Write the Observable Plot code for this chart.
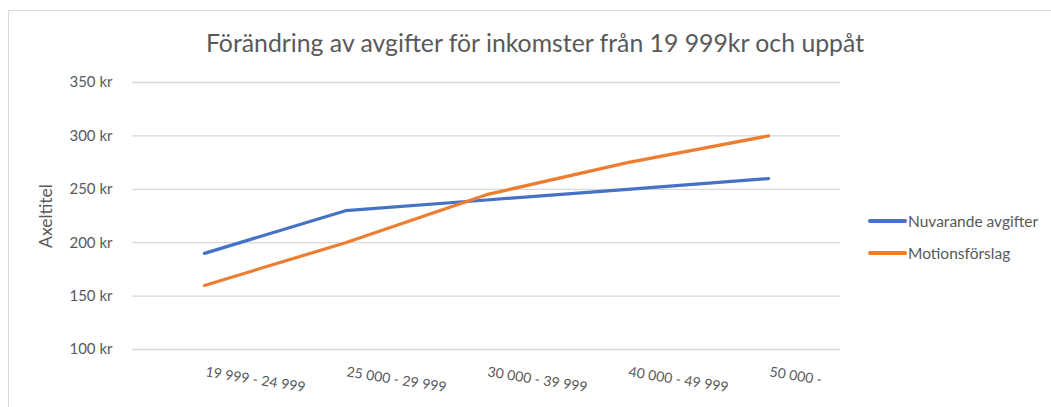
<!DOCTYPE html>
<html><head><meta charset="utf-8">
<script src="https://cdn.jsdelivr.net/npm/d3@7"></script>
<script src="https://cdn.jsdelivr.net/npm/@observablehq/plot@0.6"></script>
<style>
body{margin:0;background:#fff;font-family:Lato,"Open Sans",sans-serif;}
#wrap{position:relative;width:1051px;height:407px;overflow:hidden;}
#frame{position:absolute;left:8px;top:10px;width:1100px;height:500px;border:1px solid #d9d9d9;}
#title{position:absolute;left:0;width:1070px;top:28px;text-align:center;font-size:24.8px;color:#595959;}
#ylab{position:absolute;left:45px;top:216px;transform:translate(-50%,-50%) rotate(-90deg);font-size:17.5px;color:#595959;white-space:nowrap;}
.leg{position:absolute;left:868px;font-size:15.5px;color:#595959;display:flex;align-items:center;white-space:nowrap;}
.leg span.sw{display:inline-block;width:39px;height:4px;margin-right:1px;border-radius:2px;}
#chart{position:absolute;left:0;top:0;}
</style></head>
<body>
<div id="wrap">
<div id="frame"></div>
<div id="chart"></div>
<div id="title"></div>
<div id="ylab"></div>
<div id="legend"></div>
</div>
<script>
const title = "Förändring av avgifter för inkomster från 19 999kr och uppåt";
const yTitle = "Axeltitel";
const categories = ["19 999 - 24 999", "25 000 - 29 999", "30 000 - 39 999", "40 000 - 49 999", "50 000 -"];
const seriesNames = ["Nuvarande avgifter", "Motionsförslag"];
const nuvarande = [190, 230, 240, 250, 260];
const motion = [160, 200, 245, 275, 300];
const yTicks = [100, 150, 200, 250, 300, 350];
const colors = ["#4472c4", "#ed7d31"];

const data = [];
[nuvarande, motion].forEach((vals, si) => vals.forEach((v, i) => data.push({cat: categories[i], value: v, series: seriesNames[si]})));

document.getElementById("title").textContent = title;
document.getElementById("ylab").textContent = yTitle;
const leg = document.getElementById("legend");
seriesNames.forEach((n, i) => {
  const d = document.createElement("div");
  d.className = "leg";
  d.style.top = (212 + i * 32) + "px";
  d.innerHTML = `<span class="sw" style="background:${colors[i]}"></span>${n}`;
  leg.appendChild(d);
});

const chart = Plot.plot({
  width: 1051,
  height: 407,
  marginLeft: 132,
  marginRight: 211,
  marginTop: 82,
  marginBottom: 58,
  style: {fontFamily: "Lato, 'Open Sans', sans-serif", fontSize: "14.5px", color: "#595959", background: "transparent"},
  x: {type: "point", domain: categories, padding: 0.5},
  y: {domain: [100, 350]},
  color: {domain: seriesNames, range: colors},
  marks: [
    Plot.gridY(yTicks, {stroke: "#d9d9d9", strokeOpacity: 1, strokeWidth: 1.3}),
    Plot.axisY(yTicks, {tickSize: 0, tickPadding: 20, tickFormat: d => `${d} kr`, label: null, fontSize: 15}),
    Plot.axisX({tickSize: 0, tickPadding: 17, tickRotate: 9, textAnchor: "start", label: null, dx: 2, fontSize: 14}),
    Plot.line(data, {x: "cat", y: "value", z: "series", stroke: "series", strokeWidth: 3.2, strokeLinecap: "round", strokeLinejoin: "round"})
  ]
});
document.getElementById("chart").appendChild(chart);
</script>
</body></html>
